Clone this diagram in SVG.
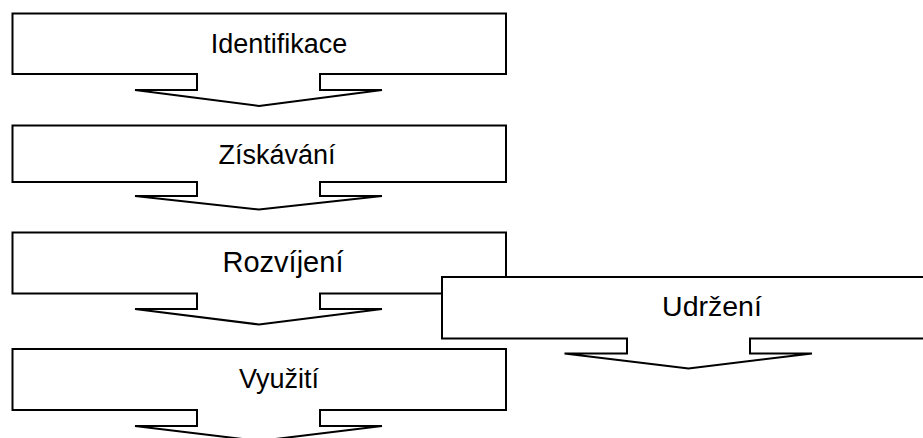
<svg xmlns="http://www.w3.org/2000/svg" width="923" height="438" viewBox="0 0 923 438">
  <style>
    .stage { fill: #ffffff; stroke: #000000; stroke-width: 2; stroke-linejoin: miter; }
    .label { font-family: "Liberation Sans", Arial, sans-serif; font-size: 27px; fill: #000000; text-anchor: middle; }
  </style>
  <rect width="923" height="438" fill="#ffffff"/>

  <!-- stage boxes: rectangle with a notched downward arrow beneath -->
  <g id="identifikace">
    <path class="stage" d="M12.5,13.5 H506 V74 H320 V90 H382 L259,106 L135,90 H197 V74 H12.5 Z"/>
    <text class="label" x="279" y="52.5">Identifikace</text>
  </g>

  <g id="ziskavani">
    <path class="stage" d="M12.5,125.5 H506 V182 H320 V196 H382 L259,209.5 L135,196 H197 V182 H12.5 Z"/>
    <text class="label" x="277" y="164">Získávání</text>
  </g>

  <g id="rozvijeni">
    <path class="stage" d="M12.5,232.5 H506 V293.5 H320 V309 H382 L259,324.5 L135,309 H197 V293.5 H12.5 Z"/>
    <text class="label" x="283" y="272" style="font-size:29px">Rozvíjení</text>
  </g>

  <g id="udrzeni">
    <path class="stage" d="M442,277 H936 V338.5 H750 V353.5 H812 L688.5,368.5 L564.5,353.5 H627 V338.5 H442 Z"/>
    <text class="label" x="712" y="316" style="font-size:28.5px">Udržení</text>
  </g>

  <g id="vyuziti">
    <path class="stage" d="M12.5,349 H506 V410 H320 V426 H382 L259,441 L135,426 H197 V410 H12.5 Z"/>
    <text class="label" x="279" y="388">Využití</text>
  </g>

  <!-- the flow is carried by the arrow shapes themselves -->
  <g id="connectors"/>
</svg>
